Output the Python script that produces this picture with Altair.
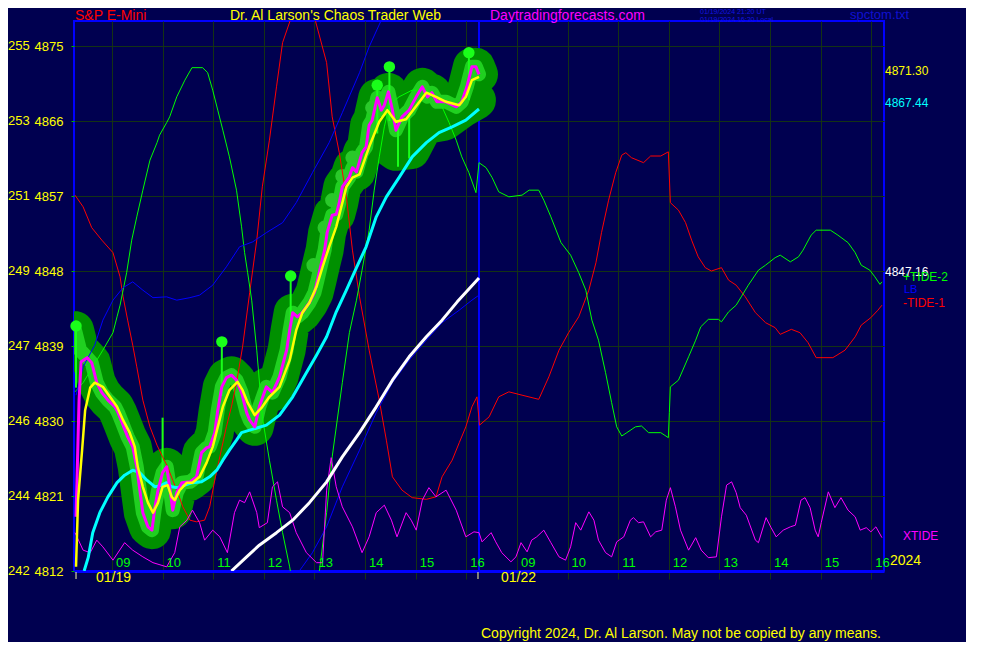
import altair as alt
import pandas as pd

# ---------------- data ----------------
# time: hours after the 08:15 open; day 1 (01/19) = 0..8, day 2 (01/22) = 8..16
hour_ticks = [0.75, 1.75, 2.75, 3.75, 4.75, 5.75, 6.75, 7.75,
              8.75, 9.75, 10.75, 11.75, 12.75, 13.75, 14.75, 15.75]
hour_labels = ["09", "10", "11", "12", "13", "14", "15", "16",
               "09", "10", "11", "12", "13", "14", "15", "16"]
day_start = [0, 8]
day_labels = ["01/19", "01/22"]
day_marks = [0.04, 7.98]

price_ticks = [4812, 4821, 4830, 4839, 4848, 4857, 4866, 4875]
left_codes = ["242", "244", "246", "247", "249", "251", "253", "255"]

# S&P E-Mini price (magenta)
price_t = [0.04, 0.10, 0.14, 0.26, 0.35, 0.45, 0.55, 0.67, 0.81, 0.87,
           0.95, 1.06, 1.16, 1.24, 1.30, 1.36, 1.46, 1.54, 1.60, 1.66,
           1.75, 1.83, 1.89, 1.95, 2.03, 2.13, 2.29, 2.42, 2.52, 2.62,
           2.68, 2.78, 2.84, 2.92, 3.01, 3.11, 3.21, 3.31, 3.41, 3.47,
           3.57, 3.66, 3.80, 3.92, 4.06, 4.20, 4.26, 4.32, 4.41, 4.51,
           4.65, 4.75, 4.81, 4.89, 4.95, 5.00, 5.10, 5.18, 5.24, 5.30,
           5.44, 5.50, 5.58, 5.69, 5.77, 5.83, 5.89, 5.99, 6.07, 6.13,
           6.21, 6.29, 6.36, 6.48, 6.62, 6.76, 6.88, 6.98, 7.07, 7.17,
           7.35, 7.55, 7.66, 7.76, 7.86, 7.94, 8.00]
price_p = [4818.5, 4832.5, 4837.1, 4837.6, 4837.0, 4834.6, 4833.4, 4832.5, 4831.7, 4831.0,
           4829.8, 4828.1, 4826.9, 4824.5, 4821.7, 4819.0, 4817.3, 4816.9, 4819.7, 4821.7,
           4823.8, 4824.5, 4822.1, 4819.3, 4821.4, 4822.6, 4822.7, 4823.3, 4826.2, 4826.8,
           4826.9, 4828.6, 4831.3, 4834.1, 4835.2, 4835.5, 4834.9, 4833.4, 4831.0, 4830.1,
           4829.3, 4831.7, 4834.1, 4833.4, 4835.3, 4838.5, 4840.9, 4843.0, 4842.5, 4843.0,
           4844.2, 4845.4, 4846.9, 4849.0, 4850.5, 4852.6, 4854.7, 4854.8, 4856.2, 4858.1,
           4859.3, 4860.4, 4859.9, 4862.2, 4862.9, 4865.5, 4866.1, 4868.8, 4867.3, 4867.9,
           4869.5, 4867.3, 4864.9, 4866.5, 4867.3, 4868.9, 4870.1, 4868.9, 4869.4, 4868.3,
           4868.3, 4867.7, 4868.3, 4870.1, 4872.5, 4872.5, 4871.6]

# bar envelope (green halo) follows the bars
halo_t = [0.02, 0.12] + price_t[3:]
halo_p = [4840.9, 4838.5] + price_p[3:]
# lows of the wide-range bars late on day 1
low_t = [6.03, 6.36, 6.66, 6.92, 7.31, 7.70, 7.96]
low_p = [4863.7, 4862.3, 4862.5, 4865.5, 4865.9, 4867.6, 4868.5]

# tall bars, dots on some of their highs
spk_t = [0.04, 1.75, 2.92, 4.28, 5.99, 6.23, 7.80, 6.40, 6.62]
spk_hi = [4841.4, 4830.4, 4839.5, 4847.4, 4870.3, 4872.5, 4874.2, 4866.0, 4867.5]
spk_lo = [4834.0, 4822.0, 4833.0, 4842.0, 4864.5, 4866.0, 4868.5, 4860.5, 4861.5]
dot_t = [0.04, 2.92, 4.28, 5.99, 6.23, 7.80]
dot_p = [4841.4, 4839.5, 4847.4, 4870.3, 4872.5, 4874.2]
light_t = [4.73, 4.95, 5.10, 5.30, 5.50, 5.89]
light_p = [4848.7, 4853.2, 4856.5, 4859.4, 4861.6, 4867.6]

# yellow average
yel_t = [0.04, 0.08, 0.16, 0.22, 0.32, 0.41, 0.57, 0.71, 0.85, 0.97,
         1.10, 1.20, 1.26, 1.36, 1.46, 1.56, 1.66, 1.75, 1.85, 1.93,
         1.99, 2.09, 2.23, 2.34, 2.48, 2.62, 2.74, 2.84, 2.94, 3.07,
         3.23, 3.33, 3.43, 3.57, 3.72, 3.86, 4.06, 4.26, 4.39, 4.51,
         4.65, 4.79, 4.91, 5.04, 5.18, 5.28, 5.38, 5.50, 5.64, 5.83,
         6.03, 6.19, 6.36, 6.56, 6.76, 6.96, 7.15, 7.35, 7.61, 7.74,
         7.86, 8.00]
yel_p = [4812.5, 4820.5, 4826.5, 4831.3, 4834.0, 4834.6, 4834.1, 4832.9, 4831.7, 4830.1,
         4828.6, 4826.9, 4824.5, 4822.1, 4820.2, 4819.0, 4820.2, 4822.1, 4822.3, 4820.9,
         4820.5, 4821.7, 4822.6, 4822.6, 4823.3, 4825.0, 4826.9, 4829.3, 4831.7, 4833.7,
         4834.7, 4833.7, 4832.2, 4830.7, 4831.7, 4832.9, 4834.1, 4837.3, 4840.9, 4843.0,
         4844.2, 4846.1, 4848.5, 4850.9, 4853.3, 4855.7, 4858.1, 4859.2, 4859.6, 4862.9,
         4865.9, 4867.3, 4865.9, 4866.2, 4867.8, 4869.4, 4868.9, 4868.3, 4867.9, 4868.9,
         4870.9, 4871.3]

# cyan average
cyan_t = [0.20, 0.28, 0.37, 0.51, 0.67, 0.85, 1.00, 1.16, 1.30, 1.44,
          1.60, 1.73, 1.83, 1.93, 2.05, 2.19, 2.34, 2.52, 2.68, 2.82,
          2.94, 3.07, 3.21, 3.31, 3.47, 3.80, 4.06, 4.32, 4.59, 4.79,
          4.99, 5.18, 5.38, 5.58, 5.77, 5.97, 6.17, 6.42, 6.68, 6.96,
          7.21, 7.47, 7.74, 8.00]
cyan_p = [4812.0, 4813.6, 4816.6, 4819.0, 4820.9, 4822.6, 4823.5, 4824.1, 4823.8, 4822.9,
          4822.1, 4822.3, 4822.6, 4822.1, 4822.0, 4822.3, 4822.6, 4822.7, 4823.3, 4824.1,
          4825.3, 4826.5, 4827.7, 4828.6, 4828.9, 4829.5, 4830.7, 4832.9, 4835.8, 4837.9,
          4840.1, 4843.1, 4845.7, 4848.4, 4850.9, 4854.5, 4856.9, 4859.2, 4861.7, 4863.4,
          4864.6, 4865.3, 4866.1, 4867.44]

# white average
white_t = [3.11, 3.41, 3.66, 4.00, 4.32, 4.65, 4.99, 5.30, 5.64, 5.97, 6.29, 6.62, 6.96, 7.27, 7.57, 8.00]
white_p = [4812.0, 4813.7, 4815.1, 4816.6, 4818.1, 4820.2, 4822.7, 4825.7, 4828.6, 4831.7,
           4834.9, 4837.7, 4840.1, 4842.1, 4844.3, 4847.16]

# LB (blue), two passes
lb1_t = [0.04, 0.18, 0.41, 0.57, 0.77, 0.97, 1.16, 1.36, 1.56, 1.83, 2.03, 2.29, 2.48,
         2.74, 3.01, 3.27, 3.53, 3.80, 4.12, 4.39, 4.71, 5.04, 5.30, 5.64, 5.83, 6.07]
lb1_p = [4833.1, 4836.5, 4839.1, 4842.1, 4844.5, 4846.0, 4846.7, 4845.7, 4844.8, 4844.9,
         4844.5, 4844.8, 4845.1, 4846.3, 4848.5, 4850.9, 4851.5, 4852.6, 4853.8, 4856.2,
         4859.8, 4863.4, 4867.0, 4871.8, 4874.9, 4878.1]
lb2_t = [4.45, 4.51, 4.71, 4.99, 5.30, 5.64, 5.97, 6.29, 6.62, 6.96, 7.27, 7.61, 7.86, 8.00]
lb2_p = [4812.0, 4812.5, 4814.2, 4817.3, 4822.1, 4826.5, 4831.0, 4834.6, 4837.3, 4839.7,
         4841.8, 4843.3, 4844.5, 4845.1]

# -TIDE-1 (red)
red_t = [0.02, 0.18, 0.35, 0.55, 0.77, 0.91, 0.97, 1.06, 1.16, 1.24,
         1.36, 1.50, 1.64, 1.75, 1.85, 1.95, 2.05, 2.15, 2.29, 2.42,
         2.58, 2.68, 2.78, 2.88, 3.01, 3.11, 3.21, 3.33, 3.47, 3.61,
         3.72, 3.86, 4.00, 4.12, 4.55, 4.99, 5.10, 5.24, 5.38, 5.50,
         5.64, 5.83, 6.03, 6.17, 6.29, 6.48, 6.68, 6.96, 7.15, 7.27,
         7.47, 7.61, 7.74, 7.86, 7.96, 8.01, 8.20, 8.39, 8.59, 8.85,
         9.18, 9.38, 9.58, 9.77, 9.97, 10.17, 10.31, 10.42, 10.56, 10.70,
         10.82, 10.90, 11.01, 11.25, 11.39, 11.59, 11.74, 11.78, 11.94, 12.08,
         12.20, 12.33, 12.47, 12.59, 12.79, 12.93, 13.08, 13.26, 13.46, 13.66,
         13.85, 13.95, 14.17, 14.34, 14.50, 14.66, 14.99, 15.23, 15.43, 15.55,
         15.74, 15.88, 15.96]
red_p = [4857.1, 4855.7, 4853.2, 4851.7, 4850.2, 4847.3, 4844.9, 4842.1, 4839.1, 4836.5,
         4832.5, 4829.3, 4827.1, 4825.7, 4824.5, 4822.9, 4821.4, 4819.7, 4818.1, 4817.9,
         4818.1, 4819.7, 4822.9, 4825.7, 4829.3, 4831.7, 4834.6, 4838.9, 4845.4, 4851.7,
         4858.1, 4863.7, 4870.1, 4875.4, 4883.0, 4873.0, 4866.5, 4862.2, 4856.9, 4850.5,
         4844.9, 4838.5, 4832.5, 4827.7, 4823.3, 4821.7, 4820.8, 4820.6, 4820.9, 4823.3,
         4825.3, 4827.4, 4829.3, 4831.7, 4832.9, 4829.5, 4830.5, 4832.9, 4833.5, 4833.1,
         4832.6, 4835.3, 4838.5, 4840.6, 4842.5, 4845.7, 4849.0, 4852.6, 4856.5, 4859.8,
         4861.9, 4862.2, 4861.6, 4861.0, 4861.8, 4861.8, 4862.3, 4856.2, 4855.3, 4853.8,
         4851.7, 4849.7, 4848.4, 4848.0, 4848.4, 4846.9, 4846.3, 4844.9, 4843.0, 4841.8,
         4841.2, 4840.4, 4841.0, 4840.6, 4839.4, 4837.6, 4837.6, 4838.5, 4840.1, 4841.5,
         4842.4, 4843.3, 4843.9]

# +TIDE-2 (green)
grn_t = [0.02, 0.18, 0.37, 0.57, 0.77, 0.85, 0.91, 1.04, 1.14, 1.24,
         1.36, 1.50, 1.64, 1.69, 1.83, 1.89, 2.03, 2.19, 2.33, 2.54,
         2.64, 2.74, 2.84, 2.94, 3.07, 3.21, 3.31, 3.37, 3.43, 3.51,
         3.61, 3.72, 3.86, 4.00, 4.12, 4.26, 4.37, 4.69, 4.85, 4.99,
         5.10, 5.30, 5.44, 5.58, 5.69, 5.83, 5.93, 6.03, 6.13, 6.23,
         6.42, 6.68, 6.96, 7.15, 7.27, 7.41, 7.55, 7.66, 7.80, 7.94,
         8.00, 8.14, 8.26, 8.39, 8.59, 8.85, 8.99, 9.18, 9.28, 9.42,
         9.62, 9.81, 9.97, 10.11, 10.23, 10.36, 10.50, 10.62, 10.72, 10.82,
         10.92, 11.09, 11.21, 11.35, 11.59, 11.74, 11.76, 11.78, 11.94, 12.14,
         12.28, 12.38, 12.53, 12.73, 12.79, 12.93, 13.08, 13.18, 13.32, 13.52,
         13.66, 13.85, 13.95, 14.15, 14.31, 14.40, 14.56, 14.66, 14.94, 15.09,
         15.29, 15.43, 15.55, 15.72, 15.82, 15.92, 15.96]
grn_p = [4833.5, 4834.6, 4836.5, 4838.5, 4840.6, 4842.5, 4843.9, 4847.8, 4851.7, 4854.5,
         4857.7, 4861.3, 4863.4, 4864.3, 4865.8, 4866.5, 4868.9, 4870.9, 4872.4, 4872.4,
         4871.8, 4869.7, 4867.3, 4864.9, 4861.7, 4857.7, 4853.3, 4850.2, 4847.8, 4844.5,
         4838.5, 4830.5, 4825.3, 4820.5, 4816.6, 4812.5, 4808.5, 4808.5, 4812.1, 4819.0,
         4825.7, 4834.6, 4840.6, 4844.5, 4848.1, 4852.9, 4857.7, 4861.7, 4865.3, 4867.9,
         4868.9, 4869.7, 4869.7, 4868.9, 4867.7, 4865.8, 4863.7, 4861.7, 4859.8, 4857.4,
         4861.0, 4860.4, 4859.2, 4857.5, 4856.9, 4857.1, 4857.7, 4857.7, 4856.5, 4854.5,
         4851.4, 4849.9, 4847.8, 4845.7, 4842.1, 4839.7, 4835.8, 4832.2, 4829.3, 4828.2,
         4828.6, 4829.3, 4829.4, 4828.6, 4828.6, 4828.0, 4831.0, 4834.1, 4834.9, 4837.7,
         4839.7, 4841.3, 4842.2, 4842.2, 4841.9, 4843.1, 4843.9, 4844.9, 4846.3, 4848.1,
         4848.7, 4849.6, 4849.9, 4849.1, 4849.7, 4850.5, 4852.3, 4852.9, 4852.9, 4852.3,
         4851.4, 4850.2, 4848.7, 4848.1, 4847.3, 4846.4, 4846.7]

# XTIDE (thin magenta)
xt_t = [0.02, 0.18, 0.32, 0.45, 0.57, 0.77, 1.00, 1.16, 1.36, 1.56,
        1.83, 1.99, 2.09, 2.23, 2.34, 2.48, 2.58, 2.74, 2.88, 3.03,
        3.17, 3.27, 3.37, 3.47, 3.61, 3.66, 3.82, 3.92, 4.02, 4.12,
        4.26, 4.39, 4.59, 4.79, 4.91, 4.99, 5.08, 5.18, 5.30, 5.50,
        5.69, 5.83, 5.97, 6.13, 6.27, 6.38, 6.56, 6.66, 6.76, 6.88,
        7.01, 7.15, 7.35, 7.55, 7.74, 7.90, 8.00,
        8.06, 8.24, 8.33, 8.45, 8.63, 8.73, 8.83, 8.95, 9.04, 9.14,
        9.28, 9.42, 9.58, 9.71, 9.81, 9.91, 10.01, 10.17, 10.27, 10.36,
        10.50, 10.62, 10.72, 10.86, 10.99, 11.05, 11.15, 11.25, 11.39, 11.49,
        11.61, 11.70, 11.78, 11.88, 11.98, 12.14, 12.28, 12.39, 12.53, 12.69,
        12.79, 12.89, 12.99, 13.08, 13.16, 13.28, 13.46, 13.52, 13.67, 13.77,
        13.87, 14.01, 14.15, 14.25, 14.36, 14.44, 14.54, 14.64, 14.70, 14.76,
        14.90, 15.03, 15.15, 15.29, 15.43, 15.53, 15.65, 15.74, 15.84, 15.96]
xt_p = [4816.6, 4814.5, 4814.2, 4815.7, 4814.9, 4813.3, 4815.4, 4814.5, 4813.7, 4813.0,
        4812.5, 4814.2, 4817.3, 4818.1, 4819.3, 4817.8, 4815.7, 4816.9, 4816.1, 4814.2,
        4819.0, 4820.5, 4820.2, 4821.5, 4819.0, 4817.2, 4817.8, 4822.1, 4822.7, 4819.7,
        4819.0, 4816.6, 4814.2, 4813.0, 4813.0, 4821.7, 4825.6, 4822.1, 4819.7, 4817.3,
        4814.2, 4816.1, 4819.0, 4819.9, 4818.1, 4816.1, 4819.0, 4818.1, 4816.9, 4820.5,
        4822.0, 4820.9, 4821.7, 4819.3, 4816.1, 4816.7, 4816.6,
        4815.5, 4816.6, 4815.5, 4814.2, 4813.1, 4813.7, 4815.4, 4814.3, 4815.7, 4816.1,
        4816.9, 4815.4, 4813.7, 4813.3, 4814.9, 4817.8, 4816.9, 4819.1, 4818.1, 4815.7,
        4814.2, 4813.7, 4815.5, 4816.1, 4818.1, 4818.4, 4817.8, 4817.9, 4816.1, 4816.7,
        4816.9, 4820.5, 4822.0, 4819.7, 4816.9, 4814.5, 4816.0, 4814.5, 4813.6, 4813.7,
        4818.5, 4822.3, 4822.7, 4821.4, 4819.6, 4818.7, 4815.7, 4815.4, 4818.4, 4817.2,
        4816.1, 4816.9, 4817.3, 4817.5, 4820.5, 4820.8, 4819.6, 4816.9, 4816.1, 4817.8,
        4821.5, 4819.6, 4820.8, 4819.3, 4818.5, 4816.9, 4817.2, 4816.7, 4817.3, 4816.0]

end_values = [4871.30, 4867.44, 4847.16]
end_texts = ["4871.30", "4867.44", "4847.16"]
end_colors = ["#ffff00", "#00ffff", "#ffffff"]

# ---------------- chart ----------------
FONT = "Liberation Sans"
BG = "#000050"
GRID = "#143214"
xs = alt.Scale(domain=[0, 16], nice=False, zero=False)
ys = alt.Scale(domain=[4812, 4878], nice=False, zero=False)

AX_X = alt.Axis(values=hour_ticks, grid=True, gridColor=GRID, gridWidth=1, gridOpacity=1,
                labels=False, ticks=True, tickSize=8, tickColor=GRID, domain=True,
                domainColor="#0000ff", domainWidth=3, title=None)
AX_Y = alt.Axis(values=price_ticks, grid=True, gridColor=GRID, gridWidth=1, gridOpacity=1,
                labels=True, labelColor="#ffff00", labelFontSize=13, labelFont=FONT,
                labelPadding=8, tickColor="#00b000", tickSize=3, domain=False, title=None,
                format="d")


def X(f="t:Q"):
    return alt.X(f, scale=xs, axis=AX_X)


def Y(f="p:Q"):
    return alt.Y(f, scale=ys, axis=AX_Y)


def frame(t, p):
    d = pd.DataFrame({"t": t, "p": p})
    d["i"] = range(len(d))
    return d


def line(t, p, color, width, cap="butt"):
    return alt.Chart(frame(t, p)).mark_line(
        color=color, strokeWidth=width, clip=True, strokeJoin="round", strokeCap=cap
    ).encode(x=X(), y=Y(), order="i:Q")


one = pd.DataFrame({"k": [0]})


def label(s, px, py, color, size=14, align="left", baseline="middle"):
    return alt.Chart(one).mark_text(
        align=align, baseline=baseline, color=color, fontSize=size, font=FONT
    ).encode(x=alt.value(px), y=alt.value(py), text=alt.value(s))


axes = alt.Chart(pd.DataFrame({"t": [0, 16], "p": [4812, 4878]})).mark_point(opacity=0).encode(
    x=X(), y=Y())

sep = alt.Chart(pd.DataFrame({"t": [8]})).mark_rule(color="#0000ff", strokeWidth=2).encode(x=X())

halo = line(halo_t, halo_p, "#009000", 38, cap="round")
halo_low = line(low_t, low_p, "#009000", 38, cap="round")
inner = line(halo_t, halo_p, "#20d020", 14, cap="round")
light = alt.Chart(frame(light_t, light_p)).mark_circle(size=200, color="#2ac82a", opacity=1).encode(x=X(), y=Y())
spikes = alt.Chart(pd.DataFrame({"t": spk_t, "hi": spk_hi, "lo": spk_lo})).mark_rule(
    color="#1aff1a", strokeWidth=2, clip=True).encode(x=X(), y=Y("hi:Q"), y2="lo:Q")
dots = alt.Chart(frame(dot_t, dot_p)).mark_circle(size=130, color="#1aff1a", opacity=1).encode(x=X(), y=Y())

red = line(red_t, red_p, "#ff0000", 1)
grn = line(grn_t, grn_p, "#00ff00", 1)
lb1 = line(lb1_t, lb1_p, "#0000ff", 1)
lb2 = line(lb2_t, lb2_p, "#0000ff", 1)
xt = line(xt_t, xt_p, "#ff00ff", 1)
white = line(white_t, white_p, "#ffffff", 3)
cyan = line(cyan_t, cyan_p, "#00ffff", 3)
mag = line(price_t, price_p, "#ff00ff", 3)
yel = line(yel_t, yel_p, "#ffff00", 2.5)

hours = alt.Chart(pd.DataFrame({"t": hour_ticks, "s": hour_labels})).mark_text(
    align="left", baseline="middle", dx=4, color="#00ff00", fontSize=13, font=FONT
).encode(x=X(), y=alt.value(542), text="s:N")

codes = alt.Chart(pd.DataFrame({"p": price_ticks, "s": left_codes})).mark_text(
    align="left", baseline="middle", color="#ffff00", fontSize=13, font=FONT
).encode(x=alt.value(-66), y=Y(), text="s:N")

dticks = alt.Chart(pd.DataFrame({"t": day_marks})).mark_rule(color="#ffffa0", strokeWidth=1).encode(
    x=X(), y=alt.value(551), y2=alt.value(558))
days = alt.Chart(pd.DataFrame({"t": day_start, "s": day_labels})).mark_text(
    align="left", baseline="middle", dx=22, color="#ffff00", fontSize=14, font=FONT
).encode(x=X(), y=alt.value(557), text="s:N")

ends = alt.Chart(pd.DataFrame({"v": end_values, "s": end_texts, "c": end_colors})).mark_text(
    align="left", baseline="middle", dy=-6, fontSize=12, font=FONT
).encode(x=alt.value(811), y=Y("v:Q"), text="s:N", color=alt.Color("c:N", scale=None))

texts = [
    label("S&P E-Mini", 1, -12, "#ff0000", baseline="top"),
    label("Dr. Al Larson's Chaos Trader Web", 156, -12, "#ffff00", baseline="top"),
    label("Daytradingforecasts.com", 416, -12, "#ff00ff", baseline="top"),
    label("01/19/2024 21:20 UT", 626, -13, "#1414e0", 7, baseline="top"),
    label("01/19/2024 16:20 Local", 626, -5, "#1414e0", 7, baseline="top"),
    label("spctom.txt", 776, -12, "#1010d0", 13, baseline="top"),
    label("+TIDE-2", 829, 256, "#00ff00", 12),
    label("LB", 830, 269, "#0000ff", 11),
    label("-TIDE-1", 829, 282, "#ff0000", 12),
    label("XTIDE", 829, 515, "#ff00ff", 12),
    label("2024", 816, 540, "#ffff00", 14),
    label("Copyright 2024, Dr. Al Larson. May not be copied by any means.", 407, 613, "#ffff00", 14),
]

chart = alt.layer(
    axes, sep, halo, halo_low, inner, light, spikes, dots,
    red, grn, lb1, lb2, xt, white, cyan, mag, yel,
    hours, codes, dticks, days, ends, *texts
).properties(
    width=810, height=550,
    padding={"left": 66, "top": 13, "right": 82, "bottom": 71},
    autosize=alt.AutoSizeParams(type="none"),
).configure(
    background=BG, font=FONT
).configure_view(
    fill=BG, stroke="#0000ff", strokeWidth=2
)

chart.save("out.html", embed_options={"renderer": "svg", "actions": False})
